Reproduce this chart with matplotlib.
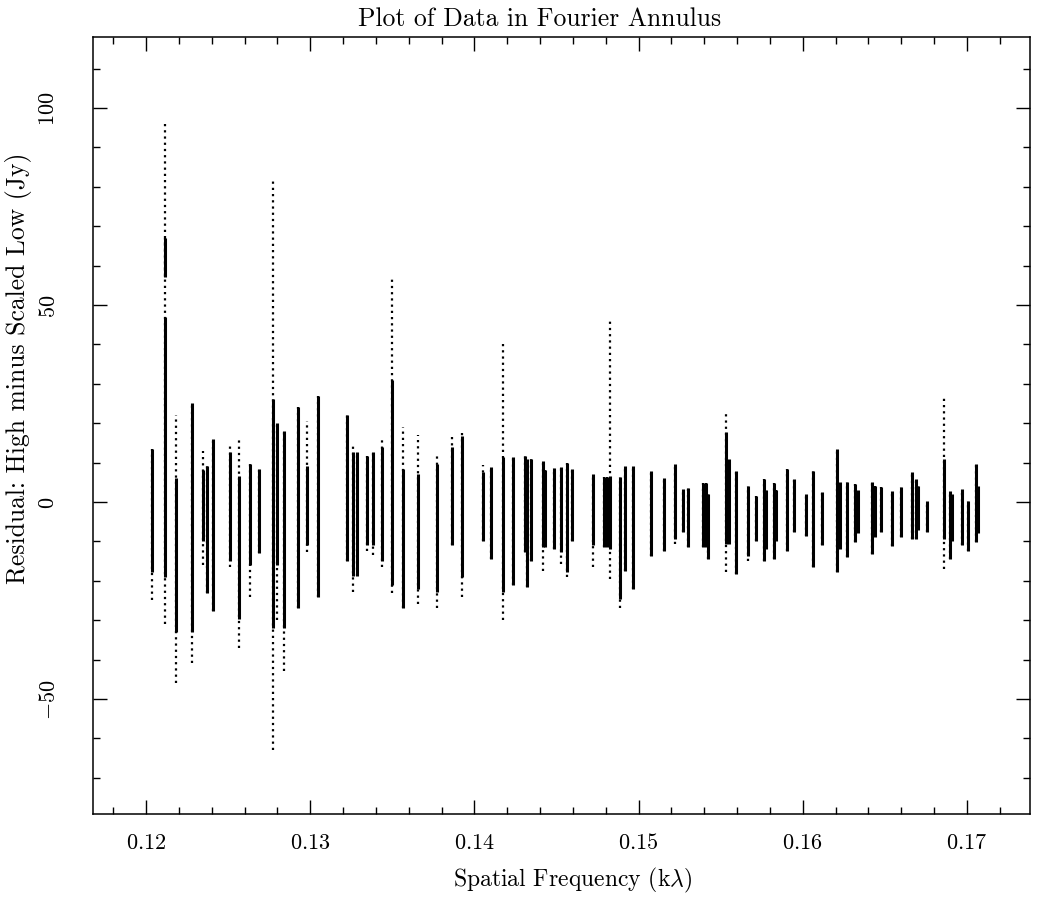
import matplotlib
matplotlib.use("Agg")
import matplotlib.pyplot as plt
from matplotlib.ticker import MultipleLocator, FuncFormatter

# Spatial frequency (k-lambda) of each visibility stripe
freq = [0.12034, 0.12115, 0.12115, 0.12182, 0.12277, 0.12346, 0.12369, 0.12405,
        0.12511, 0.12566, 0.12633, 0.12688, 0.12773, 0.12797, 0.12840, 0.12927,
        0.12980, 0.13049, 0.13222, 0.13260, 0.13285, 0.13344, 0.13380, 0.13439,
        0.13498, 0.13567, 0.13659, 0.13774, 0.13862, 0.13922, 0.14050, 0.14099,
        0.14172, 0.14237, 0.14308, 0.14320, 0.14345, 0.14420, 0.14430, 0.14485,
        0.14527, 0.14562, 0.14593, 0.14724, 0.14789, 0.14808, 0.14826, 0.14887,
        0.14917, 0.14964, 0.15076, 0.15157, 0.15222, 0.15269, 0.15303, 0.15393,
        0.15411, 0.15423, 0.15533, 0.15551, 0.15592, 0.15669, 0.15714, 0.15764,
        0.15776, 0.15825, 0.15837, 0.15906, 0.15949, 0.16018, 0.16061, 0.16118,
        0.16209, 0.16227, 0.16268, 0.16319, 0.16337, 0.16422, 0.16440, 0.16475,
        0.16546, 0.16599, 0.16664, 0.16690, 0.16702, 0.16755, 0.16861, 0.16897,
        0.16910, 0.16972, 0.17009, 0.17056, 0.17068]

# Dense (solid) part of each stripe, Jy
core_hi = [13.5, 47, 67, 6, 25, 8, 9, 16,
           12.7, 6.6, 9.6, 8.4, 26, 20, 18, 24,
           9, 27, 22, 12.7, 12.7, 11.7, 12.7, 14,
           31, 8.4, 7, 9.6, 14, 16.8, 7.6, 8.9,
           11.4, 11.4, 11.7, 11, 11, 10.4, 8, 8.6,
           8.9, 9.9, 8.4, 7.1, 6.3, 6.3, 6.6, 6.3,
           9.1, 9.1, 7.9, 6, 9.6, 3.3, 3.6, 4.8,
           4.8, 2, 17.8, 11, 7.9, 4, 1.5, 5.8,
           3, 4.8, 3, 8.4, 5.8, 2, 7.9, 2.5,
           13.5, 5, 5, 4.6, 3, 5, 4, 3.8,
           2.8, 3.8, 7.6, 5.8, 4, 0.3, 11, 2.8,
           2, 3.3, 0.3, 9.6, 4]
core_lo = [-17.8, -19, 57, -33, -33, -10, -23, -27.7,
           -15, -29.7, -16, -13, -32, -16, -32, -27,
           -11, -24, -15, -18.8, -18.8, -11, -11, -15,
           -21, -27, -22, -22.8, -11, -19, -10, -14.5,
           -22.8, -21, -12.7, -21.6, -15, -11.4, -11.4, -12,
           -12.7, -17.8, -10, -11, -11.4, -11.4, -11.9, -24.6,
           -17.5, -22, -13.7, -12.4, -9.4, -7.6, -11.4, -11.4,
           -11.4, -14.5, -10.7, -10.7, -18.3, -13.7, -9.9, -15,
           -12, -14.5, -10, -12.4, -7.6, -8.6, -16.5, -11,
           -17.8, -12, -14, -10.2, -8, -13.2, -9, -7.6,
           -11.2, -8.9, -9.4, -9.4, -7, -7.6, -9.4, -14.5,
           -10, -11, -12.4, -10.2, -8]

# Sparse (dotted) extent of each stripe, Jy
ext_hi = [13.5, 97, 67, 22, 25, 13, 9, 16,
          14.7, 16.5, 9.6, 8.4, 82, 20, 18, 24,
          20.5, 27, 22, 14.9, 12.7, 11.7, 12.7, 16,
          57, 19, 17, 12, 17, 18, 9.4, 8.9,
          40, 11.4, 11.7, 11, 11, 10.4, 8, 8.6,
          8.9, 9.9, 8.4, 7.1, 6.3, 6.3, 46, 6.3,
          9.1, 9.1, 7.9, 6, 9.6, 3.3, 3.6, 4.8,
          4.8, 2, 22.8, 11, 7.9, 4, 1.5, 5.8,
          3, 4.8, 3, 8.4, 5.8, 2, 7.9, 2.5,
          13.5, 5, 5, 4.6, 3, 5, 4, 3.8,
          2.8, 3.8, 7.6, 5.8, 4, 0.3, 26.6, 2.8,
          2, 3.3, 0.3, 9.6, 4]
ext_lo = [-25, -31, 57, -46, -41, -16, -23, -27.7,
          -16.5, -37, -24, -13, -63, -30, -43, -27,
          -12.7, -24, -15, -22.8, -18.8, -12.5, -13.4, -16.5,
          -23, -27, -26, -27, -11, -24, -10, -14.5,
          -30, -21, -12.7, -21.6, -15, -17.5, -11.4, -12,
          -15.7, -19, -10, -16.5, -11.4, -11.4, -19.5, -27,
          -17.5, -22, -13.7, -12.4, -10.7, -7.6, -11.4, -11.4,
          -11.4, -14.5, -17.8, -10.7, -18.3, -15, -9.9, -15,
          -12, -14.5, -10, -12.4, -7.6, -8.6, -16.5, -11,
          -17.8, -12, -14, -10.2, -8, -13.2, -9, -7.6,
          -11.2, -8.9, -9.4, -9.4, -7, -7.6, -17, -14.5,
          -10, -11, -12.4, -10.2, -8]

x_ticks_major = 0.01
x_ticks_minor = 0.002
y_ticks_major = 50
y_ticks_minor = 10

plt.rcParams['font.family'] = ['cmr10', 'DejaVu Serif']
plt.rcParams['mathtext.fontset'] = 'cm'
plt.rcParams['axes.unicode_minus'] = False

W, H = 1059, 903
fig = plt.figure(figsize=(W / 100, H / 100), dpi=100)
L, R, T, B = 93, 1030, 38, 815
ax = fig.add_axes([L / W, 1 - B / H, (R - L) / W, (B - T) / H])

ax.vlines(freq, ext_lo, ext_hi, colors='black', linewidth=1.6,
          linestyles=(0, (1, 1.8)))
ax.vlines(freq, core_lo, core_hi, colors='black', linewidth=2.2)

ax.set_xlim(0.11676, 0.17385)
ax.set_ylim(-79.2, 118)

ax.xaxis.set_major_locator(MultipleLocator(x_ticks_major))
ax.xaxis.set_minor_locator(MultipleLocator(x_ticks_minor))
ax.yaxis.set_major_locator(MultipleLocator(y_ticks_major))
ax.yaxis.set_minor_locator(MultipleLocator(y_ticks_minor))
ax.xaxis.set_major_formatter(FuncFormatter(lambda v, p: f'${v:.2f}$'))
ax.yaxis.set_major_formatter(FuncFormatter(lambda v, p: f'${v:.0f}$'))

ax.tick_params(which='both', direction='in', top=True, right=True, width=1.0,
               colors='black')
ax.tick_params(which='major', length=10)
ax.tick_params(which='minor', length=5)
ax.tick_params(axis='x', which='major', labelsize=16, pad=13)
ax.tick_params(axis='y', which='major', labelsize=16, pad=32)
for lab in ax.get_yticklabels():
    lab.set_rotation(90)
    lab.set_va('center')
    lab.set_ha('center')
for s in ax.spines.values():
    s.set_linewidth(1.1)

fig.text(540 / W, 1 - 19 / H, 'Plot of Data in Fourier Annulus',
         ha='center', va='center', fontsize=18.5)
fig.text(573 / W, 1 - 880 / H, r'Spatial Frequency (k$\lambda$)',
         ha='center', va='center', fontsize=17)
fig.text(19 / W, 1 - 368 / H, 'Residual: High minus Scaled Low (Jy)',
         ha='center', va='center', rotation=90, fontsize=18.5)

fig.savefig('out.png', dpi=100)
